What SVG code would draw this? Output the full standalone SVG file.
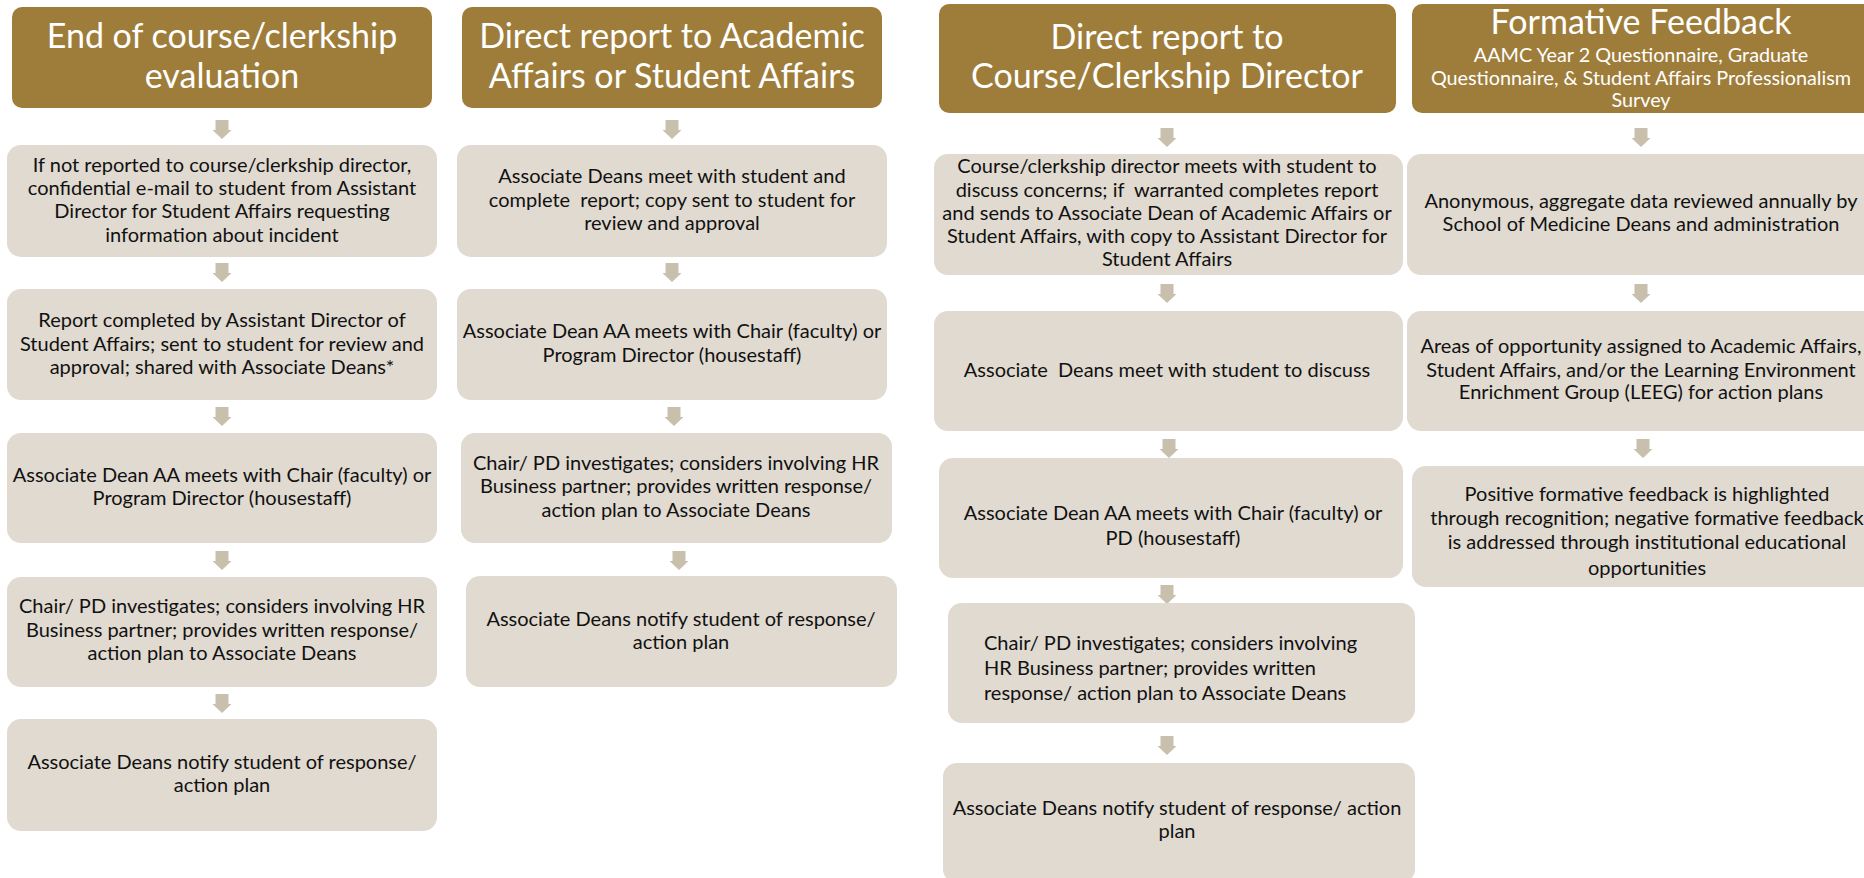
<svg xmlns="http://www.w3.org/2000/svg" xmlns:xlink="http://www.w3.org/1999/xlink" width="1864" height="878" viewBox="0 0 1864 878">
<style>
.hdr{fill:#9E7D3A}
.box{fill:#E0DAD0}
.ht{font-family:Lato,"Liberation Sans",sans-serif;font-size:34px;fill:#ffffff;text-anchor:middle}
.hs{font-family:Lato,"Liberation Sans",sans-serif;font-size:19.8px;fill:#ffffff;text-anchor:middle}
.bt{font-family:Lato,"Liberation Sans",sans-serif;font-size:20px;fill:#111111;text-anchor:middle}
.bl{font-family:Lato,"Liberation Sans",sans-serif;font-size:20px;fill:#111111;text-anchor:start}
.arr{fill:#C9BFAD}
</style>
<defs>
<path id="arr" d="M-6.5 0 H6.5 V10 H9.5 L0 19 L-9.5 10 H-6.5 Z"/>
</defs>
<rect width="1864" height="878" fill="#ffffff"/>

<g id="connectors" class="arr">
<use xlink:href="#arr" x="222" y="120"/>
<use xlink:href="#arr" x="222" y="263"/>
<use xlink:href="#arr" x="222" y="407"/>
<use xlink:href="#arr" x="222" y="551"/>
<use xlink:href="#arr" x="222" y="694"/>
<use xlink:href="#arr" x="672" y="120"/>
<use xlink:href="#arr" x="672" y="263"/>
<use xlink:href="#arr" x="674" y="407"/>
<use xlink:href="#arr" x="679" y="551"/>
<use xlink:href="#arr" x="1167" y="128"/>
<use xlink:href="#arr" x="1167" y="284"/>
<use xlink:href="#arr" x="1169" y="439"/>
<use xlink:href="#arr" x="1167" y="585"/>
<use xlink:href="#arr" x="1167" y="736"/>
<use xlink:href="#arr" x="1641" y="128"/>
<use xlink:href="#arr" x="1641" y="284"/>
<use xlink:href="#arr" x="1643" y="439"/>
</g>

<!-- Column 1 -->
<g id="c1-header"><rect class="hdr" x="12" y="7" width="420" height="101" rx="10"/>
<text class="ht" x="222" y="48">End of course/clerkship</text>
<text class="ht" x="222" y="88">evaluation</text></g>
<g id="c1-n1"><rect class="box" x="7" y="145" width="430" height="112" rx="14"/>
<text class="bt" x="222" y="172">If not reported to course/clerkship director,</text>
<text class="bt" x="222" y="195">confidential e-mail to student from Assistant</text>
<text class="bt" x="222" y="218">Director for Student Affairs requesting</text>
<text class="bt" x="222" y="242">information about incident</text></g>
<g id="c1-n2"><rect class="box" x="7" y="289" width="430" height="111" rx="14"/>
<text class="bt" x="222" y="327">Report completed by Assistant Director of</text>
<text class="bt" x="222" y="351">Student Affairs; sent to student for review and</text>
<text class="bt" x="222" y="374">approval; shared with Associate Deans*</text></g>
<g id="c1-n3"><rect class="box" x="7" y="433" width="430" height="110" rx="14"/>
<text class="bt" x="222" y="482">Associate Dean AA meets with Chair (faculty) or</text>
<text class="bt" x="222" y="505">Program Director (housestaff)</text></g>
<g id="c1-n4"><rect class="box" x="7" y="577" width="430" height="110" rx="14"/>
<text class="bt" x="222" y="613">Chair/ PD investigates; considers involving HR</text>
<text class="bt" x="222" y="637">Business partner; provides written response/</text>
<text class="bt" x="222" y="660">action plan to Associate Deans</text></g>
<g id="c1-n5"><rect class="box" x="7" y="719" width="430" height="112" rx="14"/>
<text class="bt" x="222" y="769">Associate Deans notify student of response/</text>
<text class="bt" x="222" y="792">action plan</text></g>

<!-- Column 2 -->
<g id="c2-header"><rect class="hdr" x="462" y="7" width="420" height="101" rx="10"/>
<text class="ht" x="672" y="48">Direct report to Academic</text>
<text class="ht" x="672" y="88">Affairs or Student Affairs</text></g>
<g id="c2-n1"><rect class="box" x="457" y="145" width="430" height="112" rx="14"/>
<text class="bt" x="672" y="183">Associate Deans meet with student and</text>
<text class="bt" x="672" y="207" xml:space="preserve">complete  report; copy sent to student for</text>
<text class="bt" x="672" y="230">review and approval</text></g>
<g id="c2-n2"><rect class="box" x="457" y="289" width="430" height="111" rx="14"/>
<text class="bt" x="672" y="338">Associate Dean AA meets with Chair (faculty) or</text>
<text class="bt" x="672" y="362">Program Director (housestaff)</text></g>
<g id="c2-n3"><rect class="box" x="461" y="433" width="431" height="110" rx="14"/>
<text class="bt" x="676" y="470">Chair/ PD investigates; considers involving HR</text>
<text class="bt" x="676" y="493">Business partner; provides written response/</text>
<text class="bt" x="676" y="517">action plan to Associate Deans</text></g>
<g id="c2-n4"><rect class="box" x="466" y="576" width="431" height="111" rx="14"/>
<text class="bt" x="681" y="626">Associate Deans notify student of response/</text>
<text class="bt" x="681" y="649">action plan</text></g>

<!-- Column 3 -->
<g id="c3-header"><rect class="hdr" x="939" y="4" width="457" height="109" rx="10"/>
<text class="ht" x="1167" y="49">Direct report to</text>
<text class="ht" x="1167" y="88">Course/Clerkship Director</text></g>
<g id="c3-n1"><rect class="box" x="934" y="154" width="469" height="121" rx="14"/>
<text class="bt" x="1167" y="173">Course/clerkship director meets with student to</text>
<text class="bt" x="1167" y="197" xml:space="preserve">discuss concerns; if  warranted completes report</text>
<text class="bt" x="1167" y="220">and sends to Associate Dean of Academic Affairs or</text>
<text class="bt" x="1167" y="243">Student Affairs, with copy to Assistant Director for</text>
<text class="bt" x="1167" y="266">Student Affairs</text></g>
<g id="c3-n2"><rect class="box" x="934" y="311" width="469" height="120" rx="14"/>
<text class="bt" x="1167" y="377" xml:space="preserve">Associate  Deans meet with student to discuss</text></g>
<g id="c3-n3"><rect class="box" x="939" y="458" width="464" height="120" rx="14"/>
<text class="bt" x="1173" y="520">Associate Dean AA meets with Chair (faculty) or</text>
<text class="bt" x="1173" y="545">PD (housestaff)</text></g>
<g id="c3-n4"><rect class="box" x="948" y="603" width="467" height="120" rx="14"/>
<text class="bl" x="984" y="650">Chair/ PD investigates; considers involving</text>
<text class="bl" x="984" y="675">HR Business partner; provides written</text>
<text class="bl" x="984" y="700">response/ action plan to Associate Deans</text></g>
<g id="c3-n5"><rect class="box" x="943" y="763" width="472" height="120" rx="14"/>
<text class="bt" x="1177" y="815">Associate Deans notify student of response/ action</text>
<text class="bt" x="1177" y="838">plan</text></g>

<!-- Column 4 -->
<g id="c4-header"><rect class="hdr" x="1412" y="4" width="470" height="109" rx="10"/>
<text class="ht" x="1641" y="34">Formative Feedback</text>
<text class="hs" x="1641" y="62">AAMC Year 2 Questionnaire, Graduate</text>
<text class="hs" x="1641" y="85">Questionnaire, &amp; Student Affairs Professionalism</text>
<text class="hs" x="1641" y="107">Survey</text></g>
<g id="c4-n1"><rect class="box" x="1407" y="154" width="475" height="121" rx="14"/>
<text class="bt" x="1641" y="208">Anonymous, aggregate data reviewed annually by</text>
<text class="bt" x="1641" y="231">School of Medicine Deans and administration</text></g>
<g id="c4-n2"><rect class="box" x="1407" y="311" width="475" height="120" rx="14"/>
<text class="bt" x="1641" y="353">Areas of opportunity assigned to Academic Affairs,</text>
<text class="bt" x="1641" y="377">Student Affairs, and/or the Learning Environment</text>
<text class="bt" x="1641" y="399">Enrichment Group (LEEG) for action plans</text></g>
<g id="c4-n3"><rect class="box" x="1412" y="466" width="470" height="121" rx="14"/>
<text class="bt" x="1647" y="501">Positive formative feedback is highlighted</text>
<text class="bt" x="1647" y="525">through recognition; negative formative feedback</text>
<text class="bt" x="1647" y="549">is addressed through institutional educational</text>
<text class="bt" x="1647" y="575">opportunities</text></g>
</svg>
